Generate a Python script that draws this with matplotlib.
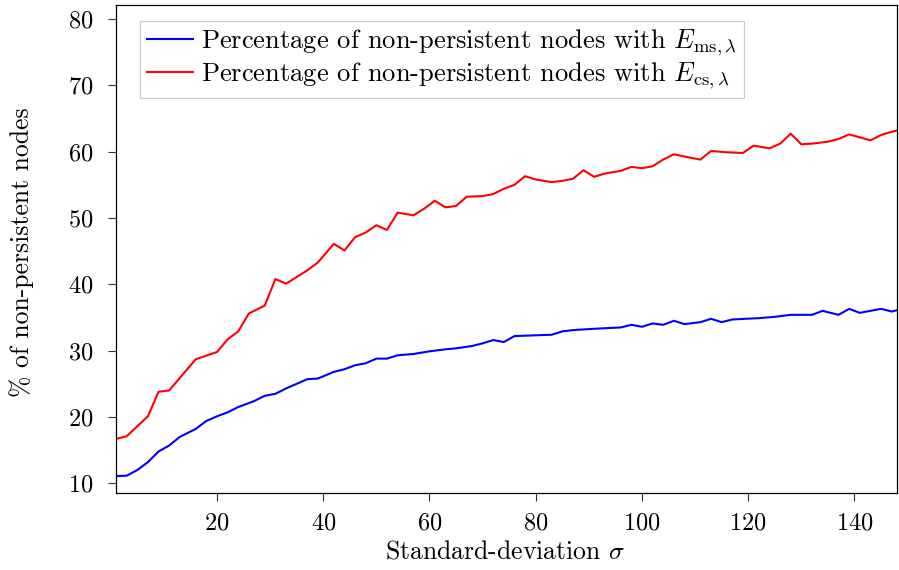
import matplotlib
matplotlib.use("Agg")
import matplotlib.pyplot as plt

plt.rcParams["font.family"] = "serif"
plt.rcParams["font.serif"] = ["cmr10"]
plt.rcParams["mathtext.fontset"] = "cm"
plt.rcParams["axes.formatter.use_mathtext"] = True

# Standard deviation sigma and percentage of non-persistent nodes (E_ms,lambda)
sigma_ms = [1, 3, 5, 7, 9, 11, 13, 16, 18, 20, 22, 24, 27, 29, 31, 33, 35, 37, 39,
            42, 44, 46, 48, 50, 52, 54, 57, 60, 63, 65, 68, 70, 72, 74, 76, 83, 85,
            87, 91, 96, 98, 100, 102, 104, 106, 108, 111, 113, 115, 117, 122, 125,
            128, 132, 134, 137, 139, 141, 145, 147, 148]
pct_ms = [11.1, 11.15, 12.0, 13.2, 14.8, 15.7, 17.0, 18.2, 19.4, 20.1, 20.7, 21.5,
          22.4, 23.2, 23.5, 24.3, 25.0, 25.7, 25.8, 26.8, 27.2, 27.8, 28.1, 28.8,
          28.8, 29.3, 29.5, 29.9, 30.2, 30.35, 30.7, 31.1, 31.6, 31.3, 32.2, 32.4,
          32.9, 33.1, 33.3, 33.5, 33.9, 33.6, 34.1, 33.9, 34.5, 34.0, 34.3, 34.8,
          34.3, 34.7, 34.9, 35.1, 35.4, 35.4, 36.0, 35.4, 36.3, 35.7, 36.3, 35.9,
          36.1]

# Standard deviation sigma and percentage of non-persistent nodes (E_cs,lambda)
sigma_cs = [1, 3, 5, 7, 9, 11, 16, 20, 22, 24, 26, 29, 31, 33, 35, 37, 39, 42, 44,
            46, 48, 50, 52, 54, 57, 59, 61, 63, 65, 67, 70, 72, 74, 76, 78, 80, 83,
            85, 87, 89, 91, 93, 96, 98, 100, 102, 104, 106, 109, 111, 113, 116, 119,
            121, 124, 126, 128, 130, 132, 135, 137, 139, 143, 145, 147, 148]
pct_cs = [16.7, 17.1, 18.6, 20.1, 23.8, 24.0, 28.7, 29.8, 31.7, 32.9, 35.6, 36.8,
          40.8, 40.1, 41.1, 42.1, 43.3, 46.1, 45.1, 47.1, 47.8, 48.9, 48.2, 50.8,
          50.4, 51.4, 52.6, 51.6, 51.8, 53.2, 53.3, 53.6, 54.4, 55.0, 56.3, 55.8,
          55.4, 55.6, 55.9, 57.2, 56.2, 56.7, 57.1, 57.7, 57.5, 57.8, 58.8, 59.6,
          59.1, 58.8, 60.1, 59.9, 59.8, 60.9, 60.5, 61.2, 62.7, 61.1, 61.2, 61.5,
          61.9, 62.6, 61.7, 62.5, 63.0, 63.2]

x_ticks = [20, 40, 60, 80, 100, 120, 140]
y_ticks = [10, 20, 30, 40, 50, 60, 70, 80]

FS_TICK = 17.5
FS_LABEL = 18.5
FS_LEG = 19.1
W, H = 899, 570
fig = plt.figure(figsize=(W / 100, H / 100), dpi=100)
ax = fig.add_axes([116 / W, 1 - 493.3 / H, (897 - 116) / W, (493.3 - 5) / H])

ax.plot(sigma_ms, pct_ms, color="#0000ff", lw=1.5,
        label=r"Percentage of non-persistent nodes with $E_{\mathrm{ms},\lambda}$")
ax.plot(sigma_cs, pct_cs, color="#ff0000", lw=1.5,
        label=r"Percentage of non-persistent nodes with $E_{\mathrm{cs},\lambda}$")

ax.set_xlim(1, 148)
ax.set_ylim(8.5, 82.1)
ax.set_xticks(x_ticks)
ax.set_yticks(y_ticks)
ax.tick_params(axis="both", direction="out", length=6, width=0.8, labelsize=FS_TICK,
               colors="#333333", labelcolor="black")
ax.tick_params(axis="x", pad=8)
ax.tick_params(axis="y", pad=10)
for s in ax.spines.values():
    s.set_linewidth(0.9)

ax.set_xlabel(r"Standard-deviation $\sigma$", fontsize=FS_LABEL)
ax.set_ylabel("% of non-persistent nodes", fontsize=FS_LABEL)
ax.xaxis.set_label_coords((505 - 116) / (897 - 116), -(552 - 493.3) / (493.3 - 5),
                          transform=ax.transAxes)
ax.xaxis.label.set_va("center")
ax.yaxis.set_label_coords(-(116 - 22) / (897 - 116), (493.3 - 252) / (493.3 - 5),
                          transform=ax.transAxes)
ax.yaxis.label.set_va("center")

leg = ax.legend(loc="upper left", bbox_to_anchor=(140 / W, 1 - 20.7 / H),
                bbox_transform=fig.transFigure, borderaxespad=0, fancybox=False,
                fontsize=FS_LEG, handlelength=1.7, handletextpad=0.32,
                labelspacing=0.08, borderpad=0.28, framealpha=1,
                edgecolor="#cccccc")
leg.get_frame().set_linewidth(0.9)

fig.savefig("out.png", dpi=100)
